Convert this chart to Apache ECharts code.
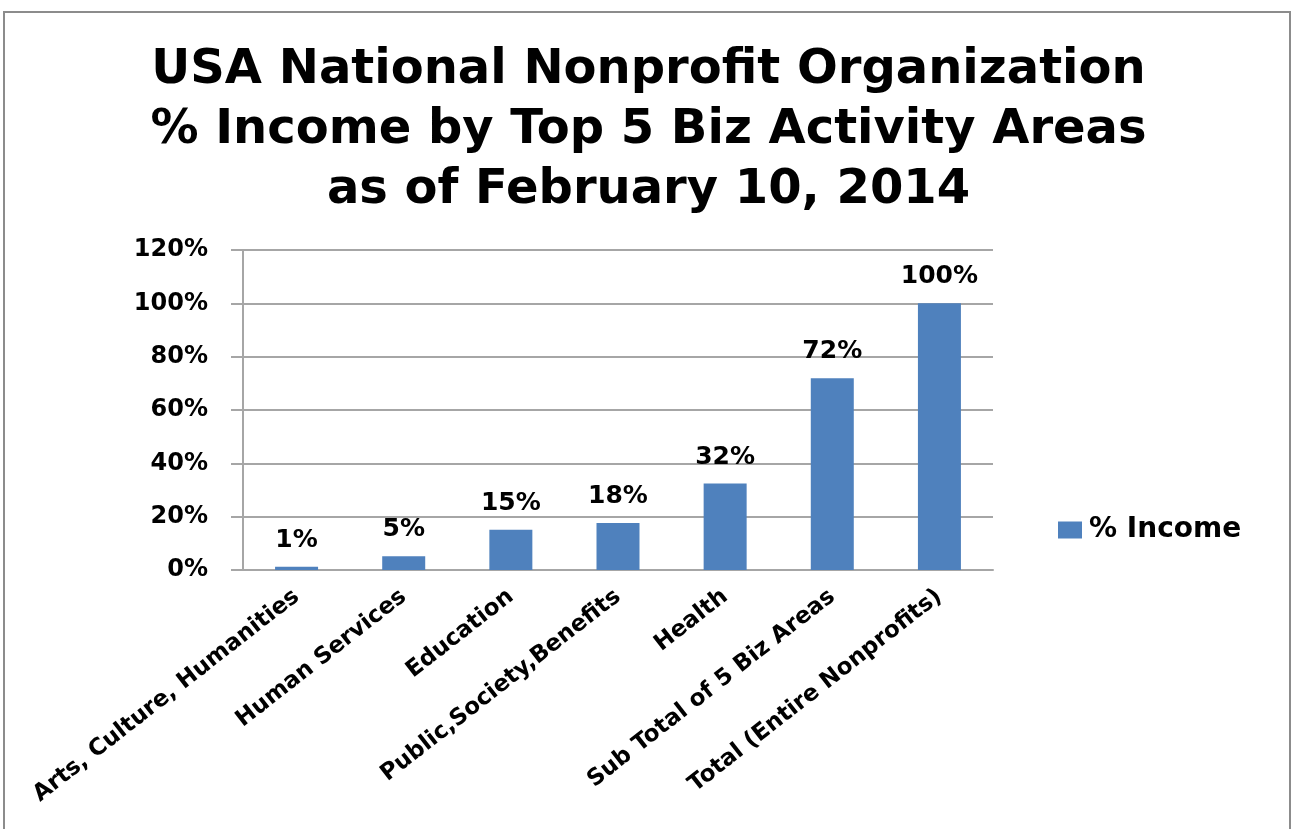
<!DOCTYPE html>
<html>
<head>
<meta charset="utf-8">
<title>USA National Nonprofit Organization % Income</title>
<script src="https://cdn.jsdelivr.net/npm/echarts@6/dist/echarts.min.js"></script>
<style>
  html, body { margin: 0; padding: 0; background: #fff; }
  #chart { width: 1297px; height: 829px; }
</style>
</head>
<body>
<div id="chart"></div>
<script>
// data
const categories = [
  'Arts, Culture, Humanities',
  'Human Services',
  'Education',
  'Public,Society,Benefits',
  'Health',
  'Sub Total of 5 Biz Areas',
  'Total (Entire Nonprofits)'
]
const incomePct = [1.2, 5.2, 15.1, 17.6, 32.4, 71.9, 100]
const yTicks = { min: 0, max: 120, interval: 20 }

const chart = echarts.init(document.getElementById('chart'))

const option = {
  backgroundColor: '#fff',
  animation: false,
  title: {
    text: 'USA National Nonprofit Organization\n% Income by Top 5 Biz Activity Areas\nas of February 10, 2014',
    left: 'center',
    top: 36,
    textStyle: {
      fontFamily: 'DejaVu Sans',
      fontWeight: 'bold',
      fontSize: 48,
      lineHeight: 60,
      color: '#000'
    }
  },
  graphic: [
    {
      type: 'rect',
      shape: { x: 4, y: 12, width: 1286, height: 830 },
      style: { fill: 'none', stroke: '#8c8c8c', lineWidth: 2 },
      silent: true
    }
  ],
  legend: {
    data: [{ name: '% Income', icon: 'rect' }],
    orient: 'vertical',
    left: 1053,
    top: 511,
    itemWidth: 24,
    itemHeight: 17,
    itemGap: 10,
    textStyle: {
      fontFamily: 'DejaVu Sans',
      fontWeight: 'bold',
      fontSize: 28,
      color: '#000',
      padding: [0, 0, 0, 2]
    }
  },
  grid: {
    left: 243,
    right: 304,
    top: 250,
    bottom: 259
  },
  xAxis: {
    type: 'category',
    data: categories,
    axisLine: { lineStyle: { color: '#a6a6a6', width: 2 } },
    axisTick: { alignWithLabel: false, length: 8, lineStyle: { color: '#a6a6a6', width: 2 } },
    axisLabel: {
      rotate: 38,
      interval: 0,
      margin: 24,
      fontFamily: 'DejaVu Sans',
      fontWeight: 'bold',
      fontSize: 23,
      color: '#000'
    }
  },
  yAxis: {
    type: 'value',
    min: yTicks.min,
    max: yTicks.max,
    interval: yTicks.interval,
    axisLine: { show: true, lineStyle: { color: '#a6a6a6', width: 2 } },
    axisTick: { show: true, length: 12, lineStyle: { color: '#a6a6a6', width: 2 } },
    splitLine: { lineStyle: { color: '#a6a6a6', width: 2 } },
    axisLabel: {
      formatter: '{value}%',
      margin: 35,
      fontFamily: 'DejaVu Sans',
      fontWeight: 'bold',
      fontSize: 24,
      color: '#000'
    }
  },
  series: [
    {
      name: '% Income',
      type: 'bar',
      data: incomePct,
      barWidth: 43,
      itemStyle: { color: '#4f81bd' },
      label: {
        show: true,
        position: 'top',
        distance: 14,
        formatter: p => Math.round(p.value) + '%',
        fontFamily: 'DejaVu Sans',
        fontWeight: 'bold',
        fontSize: 25,
        color: '#000'
      }
    }
  ]
}

chart.setOption(option)
</script>
</body>
</html>
